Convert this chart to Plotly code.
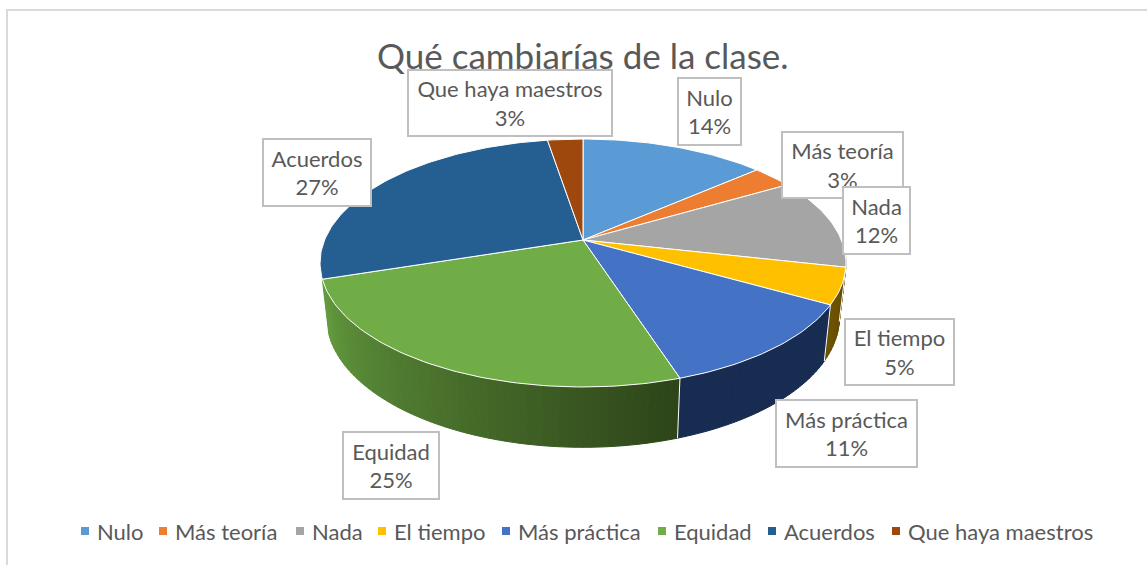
import math
import plotly.graph_objects as go

# ---- data ----
TITLE = "Qué cambiarías de la clase."
categories = ["Nulo", "Más teoría", "Nada", "El tiempo", "Más práctica", "Equidad", "Acuerdos", "Que haya maestros"]
label_percent = [14, 3, 12, 5, 11, 25, 27, 3]              # as printed on the labels
slice_percent = [13.6, 3.0, 11.9, 4.7, 11.8, 25.0, 27.4, 2.6]  # as measured from the slice angles
top_colors = ["#5B9BD5", "#ED7D31", "#A5A5A5", "#FFC000", "#4472C4", "#70AD47", "#255E91", "#9E480E"]
wall_left = ["#5B9BD5", "#ED7D31", "#A5A5A5", "#6E5300", "#182C52", "#649C3E", "#255E91", "#9E480E"]
wall_right = ["#5B9BD5", "#ED7D31", "#A5A5A5", "#624900", "#182C52", "#2D4419", "#255E91", "#9E480E"]

# ---- layout of the picture (pixels) ----
W, H = 1147, 565
CX, CY = 583, 240
A, B, K = 119.7, 258.4, 0.1855
DEPTH_DY, DEPTH_SX, DEPTH_SY = 53, 0.975, 1.05
FONT = "Lato"
TXT = "#595959"
# label boxes: x0, x1, y0, y1, in category order
boxes = [(678, 741, 78, 145), (782, 903, 132, 198), (843, 910, 187, 254), (845, 954, 319, 385),
         (776, 917, 400, 467), (343, 439, 432, 499), (263, 371, 139, 206), (408, 612, 70, 136)]
legend_marker_x = [85, 163, 300, 382, 506, 662, 772, 896]
LEGEND_Y = 531


def top(theta):
    u, v = math.sin(theta), math.cos(theta)
    w = 1 + K * v
    return CX + B * u / w, CY - A * v / w


def bottom(theta):
    x, y = top(theta)
    return CX + DEPTH_SX * (x - CX), CY + DEPTH_DY + DEPTH_SY * (y - CY)


def mix(c1, c2, t):
    a = [int(c1[i:i + 2], 16) for i in (1, 3, 5)]
    b = [int(c2[i:i + 2], 16) for i in (1, 3, 5)]
    return "rgb(%d,%d,%d)" % tuple(round(p + (q - p) * t) for p, q in zip(a, b))


total = sum(slice_percent)
edges = [0.0]
for p in slice_percent:
    edges.append(edges[-1] + p / total * 2 * math.pi)

fig = go.Figure()

# side wall (only the front half of the drum can be seen), as thin shaded strips
VIS0, VIS1 = math.radians(95), math.radians(252)
for i in range(len(slice_percent)):
    a0, a1 = max(edges[i], VIS0), min(edges[i + 1], VIS1)
    if a1 <= a0:
        continue
    n = max(2, int(math.degrees(a1 - a0) / 1.5))
    for j in range(n):
        s0 = a0 + (a1 - a0) * j / n
        s1 = a0 + (a1 - a0) * (j + 1) / n
        # the left of the picture is the end of the angle range
        col = mix(wall_right[i], wall_left[i], (j + 0.5) / n)
        p1, p2, p3, p4 = top(s0), top(s1), bottom(s1), bottom(s0)
        fig.add_trace(go.Scatter(
            x=[p1[0], p2[0], p3[0], p4[0], p1[0]], y=[p1[1], p2[1], p3[1], p4[1], p1[1]],
            mode="lines", fill="toself", fillcolor=col, line=dict(color=col, width=1),
            hoverinfo="skip", showlegend=False))
    # white seam at the start of the slice
    if a0 == edges[i] and a0 > VIS0:
        p1, p2 = top(a0), bottom(a0)
        fig.add_trace(go.Scatter(x=[p1[0], p2[0]], y=[p1[1], p2[1]], mode="lines",
                                 line=dict(color="white", width=1), hoverinfo="skip", showlegend=False))

# top face of every slice
for i, name in enumerate(categories):
    n = max(4, int(slice_percent[i] * 3))
    pts = [top(edges[i] + (edges[i + 1] - edges[i]) * j / n) for j in range(n + 1)]
    xs = [CX] + [p[0] for p in pts] + [CX]
    ys = [CY] + [p[1] for p in pts] + [CY]
    fig.add_trace(go.Scatter(x=xs, y=ys, mode="lines", fill="toself", fillcolor=top_colors[i],
                             line=dict(color="white", width=1), name=name,
                             text=f"{name}: {label_percent[i]}%", hoverinfo="text", showlegend=False))

# legend
for i, name in enumerate(categories):
    fig.add_trace(go.Scatter(x=[legend_marker_x[i]], y=[LEGEND_Y], mode="markers",
                             marker=dict(symbol="square", size=8, color=top_colors[i]),
                             hoverinfo="skip", showlegend=False))

annotations = []
# data labels, each one drawn over the previous one
for i, name in enumerate(categories):
    x0, x1, y0, y1 = boxes[i]
    annotations.append(dict(
        x=(x0 + x1) / 2, y=(y0 + y1) / 2, xref="x", yref="y", showarrow=False,
        text=f"{name}<br>{label_percent[i]}%", width=x1 - x0 - 2, height=y1 - y0 - 2,
        align="center", valign="middle", bgcolor="white", bordercolor="#BFBFBF", borderwidth=2, borderpad=0,
        font=dict(family=FONT, size=22, color=TXT)))
for i, name in enumerate(categories):
    annotations.append(dict(
        x=legend_marker_x[i] + 10, y=LEGEND_Y, xref="x", yref="y", xanchor="left", yanchor="middle",
        showarrow=False, text=name, font=dict(family=FONT, size=22, color=TXT)))
annotations.append(dict(
    x=583, y=55, xref="x", yref="y", showarrow=False, text=TITLE,
    font=dict(family=FONT, size=35, color=TXT)))

fig.update_layout(
    width=W, height=H, margin=dict(l=0, r=0, t=0, b=0),
    paper_bgcolor="white", plot_bgcolor="white", showlegend=False,
    xaxis=dict(range=[0, W], visible=False, fixedrange=True),
    yaxis=dict(range=[H, 0], visible=False, fixedrange=True),
    annotations=annotations,
    shapes=[dict(type="rect", xref="x", yref="y", x0=7, y0=10, x1=W + 20, y1=H + 20,
                 line=dict(color="#D9D9D9", width=2), layer="below")],
)
fig.write_html("out.html", config={"displayModeBar": False},
               post_script="document.body.style.margin='0';document.documentElement.style.overflow='hidden';")
